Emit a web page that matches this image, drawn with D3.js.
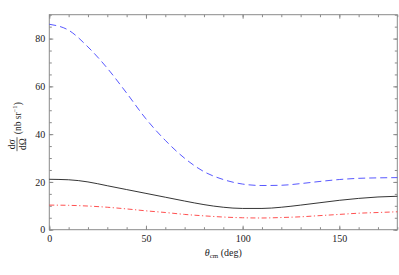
<!DOCTYPE html>
<html>
<head>
<meta charset="utf-8">
<script src="https://cdn.jsdelivr.net/npm/d3@7"></script>
<style>
  body { margin: 0; background: #fff; }
  svg text { font-family: 'Liberation Serif', serif !important; }
</style>
</head>
<body>
<script>
// angles in degrees, cross sections in nb/sr
var angles = [0, 10, 20, 30, 40, 50, 60, 70, 80, 90, 100, 110, 120, 130, 140, 150, 160, 170, 180];
var blueDashed = [86.0, 83.5, 76.5, 67.6, 57.2, 46.4, 37.4, 29.9, 24.3, 21.0, 19.1, 18.5, 18.6, 19.3, 20.2, 21.0, 21.5, 21.7, 21.8];
var blackSolid = [21.1, 20.9, 20.0, 18.4, 16.8, 15.2, 13.6, 12.0, 10.5, 9.4, 8.9, 8.9, 9.4, 10.3, 11.3, 12.3, 13.1, 13.7, 14.0];
var redDashDot = [10.3, 10.2, 9.9, 9.4, 8.7, 7.9, 7.2, 6.4, 5.8, 5.3, 5.0, 4.9, 5.1, 5.4, 5.9, 6.4, 6.9, 7.2, 7.5];
var xTicks = [0, 50, 100, 150];
var yTicks = [0, 20, 40, 60, 80];

(function () {
    var W = 399, H = 275;
    var pLeft = 49.3, pRight = 397.3, pTop = 14.7, pBottom = 229.7;

    var svg = d3.select('body').append('svg').attr('width', W).attr('height', H);

    var x = d3.scaleLinear().domain([0, 180]).range([pLeft, pRight]);
    var y = d3.scaleLinear().domain([0, 90]).range([pBottom, pTop]);

    var frameColor = '#8a8a8a';
    var minorX = d3.range(0, 181, 10), minorY = d3.range(0, 91, 5);

    function styleAxis(g) {
        g.attr('font-family', null).attr('font-size', 10);
        g.select('.domain').remove();
        g.selectAll('line').attr('stroke', frameColor);
        g.selectAll('text').attr('fill', '#222');
    }

    // major ticks with labels (bottom, left)
    svg.append('g').attr('transform', 'translate(0,' + pBottom + ')')
        .call(d3.axisBottom(x).tickValues(xTicks).tickSize(-4).tickPadding(5).tickFormat(d3.format('d')))
        .call(styleAxis);
    svg.append('g').attr('transform', 'translate(' + pLeft + ',0)')
        .call(d3.axisLeft(y).tickValues(yTicks).tickSize(-4).tickPadding(4).tickFormat(d3.format('d')))
        .call(styleAxis);
    // mirrored major ticks (top, right)
    svg.append('g').attr('transform', 'translate(0,' + pTop + ')')
        .call(d3.axisTop(x).tickValues(xTicks).tickSize(-4).tickFormat(''))
        .call(styleAxis);
    svg.append('g').attr('transform', 'translate(' + pRight + ',0)')
        .call(d3.axisRight(y).tickValues(yTicks).tickSize(-4).tickFormat(''))
        .call(styleAxis);
    // minor ticks all round
    svg.append('g').attr('transform', 'translate(0,' + pBottom + ')')
        .call(d3.axisBottom(x).tickValues(minorX).tickSize(-2.5).tickFormat('')).call(styleAxis);
    svg.append('g').attr('transform', 'translate(0,' + pTop + ')')
        .call(d3.axisTop(x).tickValues(minorX).tickSize(-2.5).tickFormat('')).call(styleAxis);
    svg.append('g').attr('transform', 'translate(' + pLeft + ',0)')
        .call(d3.axisLeft(y).tickValues(minorY).tickSize(-2.5).tickFormat('')).call(styleAxis);
    svg.append('g').attr('transform', 'translate(' + pRight + ',0)')
        .call(d3.axisRight(y).tickValues(minorY).tickSize(-2.5).tickFormat('')).call(styleAxis);

    // frame
    svg.append('rect')
        .attr('x', pLeft).attr('y', pTop)
        .attr('width', pRight - pLeft).attr('height', pBottom - pTop)
        .attr('fill', 'none').attr('stroke', frameColor).attr('stroke-width', 1);

    // curves
    var line = d3.line()
        .x(function(d) { return x(d[0]); })
        .y(function(d) { return y(d[1]); })
        .curve(d3.curveMonotoneX);

    var series = [
        { values: blueDashed, color: '#3a3aff', dash: '7,4' },
        { values: blackSolid, color: '#111', dash: null },
        { values: redDashDot, color: '#ff3030', dash: '5,2.5,1.2,2.5' }
    ];

    svg.append('g').selectAll('path.curve')
        .data(series)
        .enter()
        .append('path')
        .attr('class', 'curve')
        .attr('d', function(s) { return line(angles.map(function(a, i) { return [a, s.values[i]]; })); })
        .attr('fill', 'none')
        .attr('stroke', function(s) { return s.color; })
        .attr('stroke-width', 0.85)
        .attr('stroke-dasharray', function(s) { return s.dash; });

    // x label: theta_cm (deg)
    var xl = svg.append('text')
        .attr('x', (pLeft + pRight) / 2).attr('y', 256)
        .attr('text-anchor', 'middle')
        .attr('font-size', 10).attr('fill', '#222');
    xl.append('tspan').attr('font-style', 'italic').text('θ');
    xl.append('tspan').attr('dy', 2).attr('font-size', 7).text('cm');
    xl.append('tspan').attr('dy', -2).text(' (deg)');

    // y label: d sigma / d Omega (nb sr^-1), rotated
    var yl = svg.append('g').attr('transform', 'translate(17,' + ((pTop + pBottom) / 2) + ') rotate(-90)')
        .attr('fill', '#222');
    var fx = -22;
    yl.append('text').attr('x', fx).attr('y', -2.5).attr('text-anchor', 'middle')
        .attr('font-size', 9.5).text('dσ');
    yl.append('line').attr('x1', fx - 7).attr('x2', fx + 7).attr('y1', 0).attr('y2', 0)
        .attr('stroke', '#222').attr('stroke-width', 0.7);
    yl.append('text').attr('x', fx).attr('y', 8.5).attr('text-anchor', 'middle')
        .attr('font-size', 9.5).text('dΩ');
    var unit = yl.append('text').attr('x', fx + 10).attr('y', 3.5).attr('font-size', 9.5);
    unit.append('tspan').text('(nb sr');
    unit.append('tspan').attr('dy', -3.5).attr('font-size', 6.5).text('−1');
    unit.append('tspan').attr('dy', 3.5).text(')');
})();
</script>
</body>
</html>
